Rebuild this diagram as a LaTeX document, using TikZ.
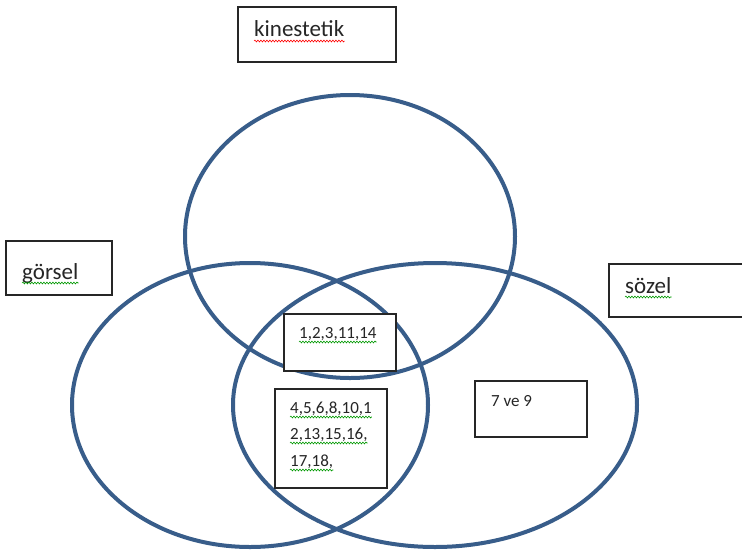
\documentclass[tikz,border=0pt]{standalone}
\usepackage{fontspec}
\setmainfont{Carlito}
\usetikzlibrary{decorations.pathmorphing}
\definecolor{vennblue}{HTML}{385D8A}
\tikzset{
  venn/.style={line width=4pt, color=vennblue},
  tbox/.style={line width=1.3pt, draw=black!85, fill=white},
  lbl/.style={inner sep=0pt, anchor=base west, text=black!85, font=\fontsize{23}{26}\selectfont},
  num/.style={inner sep=0pt, anchor=base west, text=black!85, font=\fontsize{17}{26}\selectfont},
  squig/.style={draw=#1, line width=0.6pt, decorate,
    decoration={snake, amplitude=0.9pt, segment length=3pt}}
}

\begin{document}
\begin{tikzpicture}[x=1pt, y=-1pt]
	%%%%% START %%%%%
	\useasboundingbox (0,0) rectangle (742,550);
	
	% the three sets
	\draw[venn] (350,236.5) ellipse [x radius=165pt, y radius=141.5pt];
	\draw[venn] (250,405) ellipse [x radius=178pt, y radius=142pt];
	\draw[venn] (435,405) ellipse [x radius=202pt, y radius=142pt];
	
	% text boxes
	\draw[tbox] (238,7) rectangle (396,62);
	\draw[tbox] (6,241) rectangle (112,295);
	\draw[tbox] (609,264) rectangle (746,317);
	\draw[tbox] (284,314) rectangle (396,371);
	\draw[tbox] (275,389) rectangle (387,488);
	\draw[tbox] (475,381) rectangle (587,437);
	
	% labels
	\node[lbl] (kin) at (254,36) {kinestetik};
	\node[lbl] (gor) at (22,279) {görsel};
	\node[lbl] (soz) at (625,293) {sözel};
	
	% numbers
	\node[num] (ortak) at (299,338) {1,2,3,11,14};
	\node[num] (gs1) at (290,413) {4,5,6,8,10,1};
	\node[num] (gs2) at (290,439) {2,13,15,16,};
	\node[num] (gs3) at (290,466) {17,18,};
	\node[num] (yedi) at (491,406) {7 ve 9};
	
	% spelling marks
	\draw[squig=red] ([yshift=-5pt]kin.base west) -- ([yshift=-5pt]kin.base east);
	\foreach \n in {gor,soz,ortak,gs1,gs2,gs3}
		\draw[squig=green!60!black] ([yshift=-4pt]\n.base west) -- ([yshift=-4pt]\n.base east);
	
	%%%%% END %%%%%
\end{tikzpicture}
\end{document}
